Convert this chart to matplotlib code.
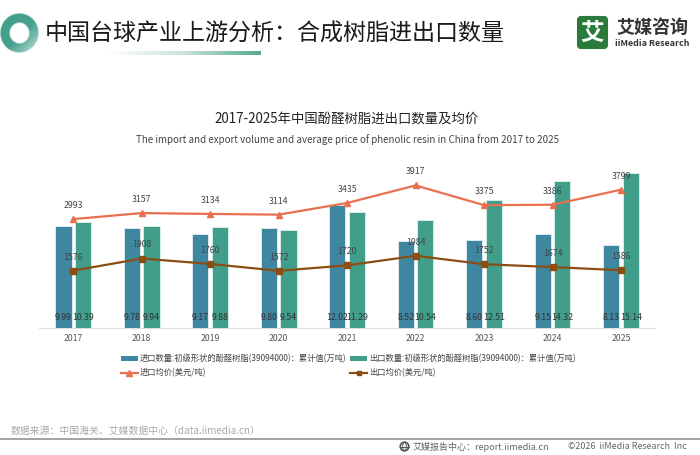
import numpy as np
import matplotlib
matplotlib.use('Agg')
import matplotlib.pyplot as plt
from matplotlib.patches import FancyBboxPatch, Patch, Circle, Ellipse
from matplotlib.lines import Line2D
from matplotlib.colors import LinearSegmentedColormap

plt.rcParams['font.family'] = ['Noto Sans CJK SC', 'DejaVu Sans']

years = ['2017', '2018', '2019', '2020', '2021', '2022', '2023', '2024', '2025']
import_qty = [9.99, 9.78, 9.17, 9.80, 12.02, 8.52, 8.60, 9.15, 8.13]
export_qty = [10.39, 9.94, 9.88, 9.54, 11.29, 10.54, 12.51, 14.32, 15.14]
import_price = [2993, 3157, 3134, 3114, 3435, 3917, 3375, 3386, 3799]
export_price = [1576, 1908, 1760, 1572, 1720, 1984, 1752, 1674, 1586]

BLUE, TEAL, ORANGE, BROWN = '#3F86A1', '#419E8A', '#E8704F', '#8B4E12'
W, H = 700, 455
fig = plt.figure(figsize=(7, 4.55), dpi=100, facecolor='white')

# Pixel-space overlay for the page furniture
pg = fig.add_axes([0, 0, 1, 1], zorder=0)
pg.axis('off')

# Ring in the header
yy, xx = np.mgrid[13:53:160j, 0:39:156j]
d = np.hypot((xx - 19.5) / 19.5, (yy - 33) / 20)
hole = np.hypot((xx - 19.5) / 9.5, (yy - 33) / 10)
t = np.clip(((xx - 0) / 39 + (yy - 13) / 40) / 2, 0, 1)
ring_cmap = LinearSegmentedColormap.from_list(
    'r', [(0, '#3F9E8A'), (0.55, '#46A18E'), (0.75, '#7FBEB0'), (1, '#DCEDE9')])
rgba = ring_cmap(t)
rgba[..., 3] = np.clip((1 - d) * 30, 0, 1) * np.clip((hole - 1) * 12, 0, 1)
pg.imshow(rgba, extent=(0, 39, 53, 13), aspect='auto', interpolation='bilinear')

# Underline gradient
bar_cmap = LinearSegmentedColormap.from_list('b', ['#FFFFFF', '#C9E3DC', '#56A892'])
pg.imshow(np.linspace(0, 1, 256).reshape(1, -1), cmap=bar_cmap,
          extent=(107, 261, 54.7, 51), aspect='auto')

pg.text(45, 34, '中国台球产业上游分析：合成树脂进出口数量', fontsize=16.6,
        color='#1A1A1A', va='center', ha='left')

# Logo
pg.add_patch(FancyBboxPatch((578, 17), 29, 31, boxstyle='round,pad=0,rounding_size=3',
                            fc='#2A7A3B', ec='#2A7A3B', lw=1.5))
pg.text(592.5, 32.5, '艾', fontsize=17, color='white', weight='bold', ha='center', va='center')
pg.text(652, 27, '艾媒咨询', fontsize=13, color='#333333', weight='bold', ha='center', va='center')
pg.text(652, 44, 'iiMedia Research', fontsize=6.4, color='#333333', weight='bold', ha='center', va='center')

# Titles
pg.text(347, 120, '2017-2025年中国酚醛树脂进出口数量及均价', fontsize=9.6,
        color='#222222', ha='center', va='center')
pg.text(347, 139.5, 'The import and export volume and average price of phenolic resin in China from 2017 to 2025',
        fontsize=7.05, color='#444444', ha='center', va='center')

# Footer
pg.text(11, 430.5, '数据来源：中国海关、艾媒数据中心（data.iimedia.cn）', fontsize=7.1,
        color='#A8A8A8', ha='left', va='center')
pg.plot([0, W], [439, 439], color='#8A8A8A', lw=1.1)
pg.add_patch(Circle((404.5, 446.5), 4.3, fc='none', ec='#555555', lw=1.2))
pg.add_patch(Ellipse((404.5, 446.5), 3.6, 8.6, fc='none', ec='#555555', lw=0.7))
pg.plot([400.2, 408.8], [446.5, 446.5], color='#555555', lw=0.7)
pg.text(413, 446.7, '艾媒报告中心：report.iimedia.cn', fontsize=6.5, color='#666666',
        ha='left', va='center')
pg.text(687, 446.7, '©2026  iiMedia Research  Inc', fontsize=6.4, color='#666666',
        ha='right', va='center')
pg.set_xlim(0, W)
pg.set_ylim(H, 0)

# Main chart
left, right, top, bottom = 39.05, 655.25, 148, 328
ax = fig.add_axes([left / W, 1 - bottom / H, (right - left) / W, (bottom - top) / H], zorder=2)
ax.patch.set_alpha(0)
x = np.arange(len(years))
bw, off = 0.235, 0.143
ax.bar(x - off, import_qty, bw, color=BLUE, edgecolor='#DCEAF0', linewidth=0.7, zorder=2)
ax.bar(x + off, export_qty, bw, color=TEAL, edgecolor='#D5EDE7', linewidth=0.7, zorder=2)
ax.set_xlim(-0.5, len(years) - 0.5)
ax.set_ylim(0, 180 / 10.25)
ax.set_xticks(x, years)
ax.tick_params(axis='x', length=0, pad=4.2, labelsize=6.3, labelcolor='#555555')
ax.set_yticks([])
for s in ['top', 'left', 'right']:
    ax.spines[s].set_visible(False)
ax.spines['bottom'].set_color('#DDDDDD')
ax.spines['bottom'].set_linewidth(0.8)

ax2 = ax.twinx()
ax2.set_zorder(3)
ax2.patch.set_alpha(0)
ax2.set_ylim(0, 180 / 0.0364)
ax2.set_yticks([])
for s in ax2.spines.values():
    s.set_visible(False)
ax2.plot(x, import_price, color=ORANGE, lw=1.6, marker='^', ms=5, zorder=3)
ax2.plot(x, export_price, color=BROWN, lw=1.6, marker='s', ms=3.8, zorder=3)

for xi, v in zip(x, import_price):
    ax2.annotate(str(v), (xi, v), xytext=(0, 9.8), textcoords='offset points', ha='center',
                 va='center', fontsize=6.3, color='#444444', zorder=5)
for xi, v in zip(x, export_price):
    ax2.annotate(str(v), (xi, v), xytext=(0, 9.8), textcoords='offset points', ha='center',
                 va='center', fontsize=6.3, color='#444444', zorder=5)
for xi, a, b in zip(x, import_qty, export_qty):
    ax2.annotate(f'{a:.2f}', (xi - off, 0), xytext=(0, 7.8), textcoords='offset points',
                 ha='center', va='center', fontsize=6.3, color='#333333', zorder=5)
    ax2.annotate(f'{b:.2f}', (xi + off, 0), xytext=(0, 7.8), textcoords='offset points',
                 ha='center', va='center', fontsize=6.3, color='#333333', zorder=5)

# Legend
handles = [Patch(fc=BLUE, ec='none'),
           Line2D([], [], color=ORANGE, lw=1.6, marker='^', ms=4.5),
           Patch(fc=TEAL, ec='none'),
           Line2D([], [], color=BROWN, lw=1.6, marker='s', ms=3.5)]
labels = ['进口数量:初级形状的酚醛树脂(39094000)：累计值(万吨)', '进口均价(美元/吨)',
          '出口数量:初级形状的酚醛树脂(39094000)：累计值(万吨)', '出口均价(美元/吨)']
fig.legend(handles, labels, ncol=2, loc='center left', bbox_to_anchor=(121 / W, 1 - 366 / H),
           frameon=False, fontsize=5.95, labelcolor='#444444', handlelength=2.0, handleheight=0.6,
           handletextpad=0.3, columnspacing=0.45, labelspacing=0.6, borderpad=0, borderaxespad=0)

fig.savefig('out.png', dpi=100)
